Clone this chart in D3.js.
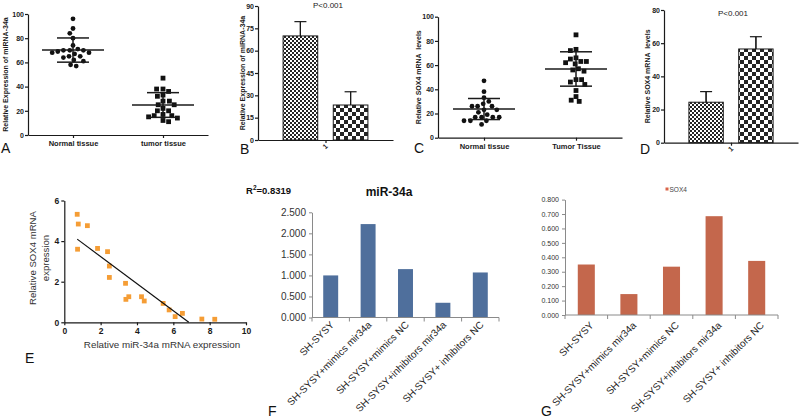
<!DOCTYPE html>
<html><head><meta charset="utf-8">
<script src="https://cdn.jsdelivr.net/npm/d3@7"></script>
<style>
body{margin:0;background:#fff}
svg{display:block}
text{font-family:"Liberation Sans",Arial,sans-serif}
</style>
</head><body>
<svg id="c" width="800" height="418"></svg>
<script>
// ---------------- DATA ----------------
// Panel A: miRNA-34a, individual samples
const aGroups = ["Normal tissue", "tumor tissue"];
const aNormal = [96, 88, 84, 80, 74, 71, 70, 70, 70, 69, 68, 68, 67, 65, 65, 64, 62, 61, 58, 57];
const aTumor  = [47, 38, 38, 36, 33, 32, 28, 28, 25, 25, 22, 20, 20, 17, 16, 16, 15, 14, 12, 11];
const aMean = [70.2, 24.8];
const aSD   = [10.0, 10.2];
const aTicks = [0, 20, 40, 60, 80, 100];

// Panel B: miRNA-34a bars (mean ± SD)
const bMeans = [69.9, 23.5];
const bSD    = [9.6, 8.9];
const bTicks = [0, 15, 30, 45, 60, 75, 90];
const bGroup = ["1"];

// Panel C: SOX4, individual samples
const cGroups = ["Normal tissue", "Tumor Tissue"];
const cNormal = [47, 38, 33, 30, 28, 26, 26, 26, 23, 23, 21, 19, 17, 17, 17, 17, 14, 14, 14, 11];
const cTumor  = [85, 73, 72, 66, 65, 63, 63, 62, 61, 57, 56, 55, 48, 48, 46, 44, 39, 34, 31, 30];
const cMean = [23.7, 56.8];
const cSD   = [8.7, 14.2];
const cTicks = [0, 20, 40, 60, 80, 100];

// Panel D: SOX4 bars (mean ± SD)
const dMeans = [24.4, 56.5];
const dSD    = [6.4, 7.4];
const dTicks = [0, 20, 40, 60, 80];
const dGroup = ["1"];

// Panel E: correlation
const eX = [0.71, 0.77, 1.27, 0.73, 1.83, 2.38, 2.48, 2.48, 3.37, 3.39, 3.55, 4.25, 4.40, 5.44, 5.77, 6.10, 6.50, 7.57, 8.28];
const eY = [5.32, 4.84, 4.76, 3.60, 3.64, 3.48, 2.77, 2.21, 1.92, 1.13, 1.26, 1.26, 1.05, 0.93, 0.61, 0.28, 0.44, 0.16, 0.15];
const eFit = [-0.667, 4.57];       // slope, intercept
const eFitRange = [0.71, 6.85];
const eXTicks = [0, 2, 4, 6, 8, 10];
const eYTicks = [0, 2, 4, 6];
const eR2 = "0.8319";

// Panels F and G
const cellGroups = ["SH-SYSY", "SH-SYSY+mimics mir34a", "SH-SYSY+mimics NC", "SH-SYSY+inhibitors mir34a", "SH-SYSY+ inhibitors NC"];
const fValues = [1.00, 2.22, 1.15, 0.35, 1.07];
const fTicks = [0, 0.5, 1.0, 1.5, 2.0, 2.5];
const gValues = [0.350, 0.145, 0.335, 0.685, 0.375];
const gTicks = [0, 0.1, 0.2, 0.3, 0.4, 0.5, 0.6, 0.7, 0.8];

// ---------------- DRAW ----------------
const svg = d3.select("#c");
svg.append("rect").attr("width", 800).attr("height", 418).attr("fill", "#fff");
const defs = svg.append("defs");
function checker(id, s) {
  const p = defs.append("pattern").attr("id", id).attr("patternUnits", "userSpaceOnUse")
    .attr("width", 2 * s).attr("height", 2 * s);
  p.append("rect").attr("width", 2 * s).attr("height", 2 * s).attr("fill", "#fff");
  p.append("rect").attr("width", s).attr("height", s).attr("fill", "#111");
  p.append("rect").attr("x", s).attr("y", s).attr("width", s).attr("height", s).attr("fill", "#111");
}
checker("fine", 2);
checker("coarse", 4);

const INK = "#1a1a1a";
function styleGP(sel, fs) {
  sel.attr("font-family", "Liberation Sans, Arial, sans-serif").attr("font-size", fs).attr("font-weight", "bold");
  sel.selectAll("text").attr("fill", INK);
  sel.selectAll("line,path").attr("stroke", INK).attr("stroke-width", 1.2);
}
function yTitle(x, y, txt, fs, weight, color) {
  svg.append("text").attr("transform", `translate(${x},${y}) rotate(-90)`)
    .attr("text-anchor", "middle").attr("dominant-baseline", "central")
    .attr("font-size", fs).attr("font-weight", weight || "bold").attr("fill", color || INK)
    .style("white-space", "pre").text(txt);
}
function panelLetter(x, y, t) {
  svg.append("text").attr("x", x).attr("y", y).attr("font-size", 14).attr("fill", "#111").text(t);
}

// beeswarm placement (computed)
function swarm(values, y, cx, diam) {
  const placed = [];
  const idx = values.map((v, i) => i).sort((a, b) => values[b] - values[a]);
  const out = [];
  idx.forEach((i, n) => {
    const py = y(values[i]);
    const sgn = n % 2 ? 1 : -1;
    for (let k = 0; k < 200; k++) {
      const off = (k === 0 ? 0 : (k % 2 ? sgn : -sgn) * Math.ceil(k / 2) * 0.8);
      const px = cx + off;
      if (placed.every(p => (p[0] - px) ** 2 + (p[1] - py) ** 2 >= diam * diam)) {
        placed.push([px, py]); out.push({ x: px, y: py }); break;
      }
    }
  });
  return out;
}

function dotPanel(opts) {
  const { x0, x1, yTop, yBot, ticks, max, groups, sets, means, sds, title, titleX, letter, letterX } = opts;
  const y = d3.scaleLinear().domain([0, max]).range([yBot, yTop]);
  const x = d3.scalePoint().domain(groups).range([x0, x1]).padding(0.5);
  const gy = svg.append("g").attr("transform", `translate(${x0},0)`)
    .call(d3.axisLeft(y).tickValues(ticks).tickFormat(d3.format("d")).tickSize(3).tickSizeOuter(0).tickPadding(1));
  styleGP(gy, 7);
  const gx = svg.append("g").attr("transform", `translate(0,${yBot})`)
    .call(d3.axisBottom(x).tickSize(3).tickSizeOuter(0).tickPadding(3));
  styleGP(gx, 7.5);
  groups.forEach((gname, gi) => {
    const cx = x(gname);
    const pts = swarm(sets[gi], y, cx, 5.6);
    if (gi === 0) {
      svg.append("g").selectAll("circle").data(pts).join("circle")
        .attr("cx", d => d.x).attr("cy", d => d.y).attr("r", 2.4).attr("fill", "#111");
    } else {
      svg.append("g").selectAll("rect").data(pts).join("rect")
        .attr("x", d => d.x - 2.4).attr("y", d => d.y - 2.4).attr("width", 4.8).attr("height", 4.8).attr("fill", "#111");
    }
    const g = svg.append("g").attr("stroke", INK).attr("stroke-width", 1.5);
    g.append("line").attr("x1", cx - 31).attr("x2", cx + 31).attr("y1", y(means[gi])).attr("y2", y(means[gi]));
    g.append("line").attr("x1", cx - 16).attr("x2", cx + 16).attr("y1", y(means[gi] + sds[gi])).attr("y2", y(means[gi] + sds[gi]));
    g.append("line").attr("x1", cx - 16).attr("x2", cx + 16).attr("y1", y(means[gi] - sds[gi])).attr("y2", y(means[gi] - sds[gi]));
    g.append("line").attr("x1", cx).attr("x2", cx).attr("y1", y(means[gi] + sds[gi])).attr("y2", y(means[gi] - sds[gi]));
  });
  yTitle(titleX, (yTop + yBot) / 2, title, 7);
  panelLetter(letterX, 153, letter);
}

function barPanel(opts) {
  const { x0, x1, yTop, yBot, ticks, max, means, sds, title, titleX, letter, letterX, pX, pY, group } = opts;
  const y = d3.scaleLinear().domain([0, max]).range([yBot, yTop]);
  const xb = d3.scaleBand().domain(d3.range(means.length)).range([x0, x1]).paddingInner(0.31).paddingOuter(0.5);
  const xg = d3.scalePoint().domain(group).range([x0, x1]).padding(0.5);
  const gy = svg.append("g").attr("transform", `translate(${x0},0)`)
    .call(d3.axisLeft(y).tickValues(ticks).tickFormat(d3.format("d")).tickSize(3).tickSizeOuter(0).tickPadding(1));
  styleGP(gy, 7);
  const fills = ["url(#fine)", "url(#coarse)"];
  means.forEach((m, i) => {
    const bx = xb(i), bw = xb.bandwidth(), cx = bx + bw / 2;
    const g = svg.append("g");
    g.append("line").attr("x1", cx).attr("x2", cx).attr("y1", y(m - sds[i])).attr("y2", y(m + sds[i]))
      .attr("stroke", INK).attr("stroke-width", 1.2);
    g.append("rect").attr("x", bx).attr("y", y(m)).attr("width", bw).attr("height", yBot - y(m))
      .attr("fill", fills[i]).attr("fill-opacity", 0.92).attr("stroke", INK).attr("stroke-width", 1);
    g.append("line").attr("x1", cx).attr("x2", cx).attr("y1", y(m)).attr("y2", y(m + sds[i]))
      .attr("stroke", INK).attr("stroke-width", 1.2);
    g.append("line").attr("x1", cx - 6).attr("x2", cx + 6).attr("y1", y(m + sds[i])).attr("y2", y(m + sds[i]))
      .attr("stroke", INK).attr("stroke-width", 1.2);
  });
  const gx = svg.append("g").attr("transform", `translate(0,${yBot})`)
    .call(d3.axisBottom(xg).tickSize(3).tickSizeOuter(0).tickPadding(2));
  styleGP(gx, 7);
  gx.selectAll(".tick text").attr("y", 0).attr("dy", 0).attr("text-anchor", "middle")
    .attr("transform", "translate(1,8) rotate(-45)");
  svg.append("text").attr("x", pX).attr("y", pY).attr("text-anchor", "middle")
    .attr("font-size", 8).attr("fill", "#222").text("P<0.001");
  yTitle(titleX, (yTop + yBot) / 2, title, 7);
  panelLetter(letterX, 154, letter);
}

// A
dotPanel({ x0: 28, x1: 208, yTop: 14, yBot: 135, ticks: aTicks, max: 100, groups: aGroups,
  sets: [aNormal, aTumor], means: aMean, sds: aSD, title: "Relative Expression of miRNA-34a",
  titleX: 5, letter: "A", letterX: 1 });
// B
barPanel({ x0: 258, x1: 393, yTop: 6, yBot: 140, ticks: bTicks, max: 90, means: bMeans, sds: bSD,
  title: "Relative Expression of miRNA-34a", titleX: 242, letter: "B", letterX: 240, pX: 328, pY: 8, group: bGroup });
// C
dotPanel({ x0: 438, x1: 622, yTop: 16.7, yBot: 137.7, ticks: cTicks, max: 100, groups: cGroups,
  sets: [cNormal, cTumor], means: cMean, sds: cSD, title: "Relative SOX4 mRNA  levels",
  titleX: 418, letter: "C", letterX: 414 });
// D
barPanel({ x0: 664, x1: 798, yTop: 10, yBot: 142.7, ticks: dTicks, max: 80, means: dMeans, sds: dSD,
  title: "Relative SOX4 mRNA  levels", titleX: 647, letter: "D", letterX: 640, pX: 733, pY: 16, group: dGroup });

// E
(function () {
  const x = d3.scaleLinear().domain([0, 10]).range([64.3, 246]);
  const y = d3.scaleLinear().domain([0, 6]).range([322.3, 200.5]);
  const gx = svg.append("g").attr("transform", "translate(0,322.3)")
    .call(d3.axisBottom(x).tickValues(eXTicks).tickFormat(d3.format("d")).tickSize(3).tickSizeOuter(0).tickPadding(3));
  styleGP(gx, 8.5);
  const gy = svg.append("g").attr("transform", "translate(64.3,0)")
    .call(d3.axisLeft(y).tickValues(eYTicks).tickFormat(d3.format("d")).tickSize(3).tickSizeOuter(0).tickPadding(2));
  styleGP(gy, 8.5);
  svg.append("g").selectAll("rect").data(eX).join("rect")
    .attr("x", (d, i) => x(d) - 2.4).attr("y", (d, i) => y(eY[i]) - 2.4)
    .attr("width", 4.8).attr("height", 4.8).attr("fill", "#f59d35");
  svg.append("line").attr("x1", x(eFitRange[0])).attr("y1", y(eFit[0] * eFitRange[0] + eFit[1]))
    .attr("x2", x(eFitRange[1])).attr("y2", y(eFit[0] * eFitRange[1] + eFit[1]))
    .attr("stroke", "#111").attr("stroke-width", 1.2);
  svg.append("text").attr("x", 162).attr("y", 348).attr("text-anchor", "middle")
    .attr("font-size", 9.8).attr("fill", "#333").text("Relative miR-34a mRNA expression");
  yTitle(32, 258, "Relative SOX4 mRNA", 9.6, "normal", "#333");
  yTitle(45, 258, "expression", 9.6, "normal", "#333");
  const r = svg.append("text").attr("x", 246).attr("y", 194).attr("font-size", 9.5).attr("font-weight", "bold").attr("fill", "#111");
  r.append("tspan").text("R");
  r.append("tspan").attr("font-size", 6.5).attr("dy", -4).text("2");
  r.append("tspan").attr("dy", 4).text("=" + eR2);
  panelLetter(25, 363, "E");
})();

// Excel-style bar panels
function excelPanel(opts) {
  const { x0, x1, yTop, yBot, ticks, max, values, color, tickFont, tickFs, fmt, labFont, labFs, labDx, labDy, letter, letterX } = opts;
  const y = d3.scaleLinear().domain([0, max]).range([yBot, yTop]);
  const x = d3.scaleBand().domain(cellGroups).range([x0, x1]).paddingInner(0.6).paddingOuter(0.3);
  const gy = svg.append("g").attr("transform", `translate(${x0},0)`)
    .call(d3.axisLeft(y).tickValues(ticks).tickFormat(d3.format(fmt)).tickSize(3).tickSizeOuter(0).tickPadding(3));
  gy.attr("font-family", tickFont).attr("font-size", tickFs);
  gy.selectAll("text").attr("fill", "#333");
  gy.selectAll("line,path").attr("stroke", "#8a8a8a");
  svg.append("g").selectAll("rect").data(values).join("rect")
    .attr("x", (d, i) => x(cellGroups[i])).attr("y", d => y(d))
    .attr("width", x.bandwidth()).attr("height", d => yBot - y(d)).attr("fill", color);
  const ax = svg.append("g").attr("stroke", "#8a8a8a");
  ax.append("line").attr("x1", x0).attr("x2", x1).attr("y1", yBot).attr("y2", yBot);
  const bounds = cellGroups.map(c => x(c) - x.step() * x.paddingInner() / 2).concat([x1]);
  bounds.forEach(b => ax.append("line").attr("x1", b).attr("x2", b).attr("y1", yBot).attr("y2", yBot + 4));
  svg.append("g").selectAll("text").data(cellGroups).join("text")
    .attr("transform", d => `translate(${x(d) + x.bandwidth() / 2 + labDx},${yBot + labDy}) rotate(-45)`)
    .attr("text-anchor", "end").attr("font-family", labFont).attr("font-size", labFs).attr("fill", "#262626")
    .style("white-space", "pre").text(d => d);
  panelLetter(letterX, 416, letter);
  return { x, y };
}

excelPanel({ x0: 312, x1: 499, yTop: 212.3, yBot: 317.5, ticks: fTicks, max: 2.5, values: fValues,
  color: "#4f6f9c", tickFont: "Liberation Sans, Arial, sans-serif", tickFs: 10, fmt: ".3f",
  labFont: "Liberation Sans, Arial, sans-serif", labFs: 10, labDx: 4, labDy: 8, letter: "F", letterX: 268 });
svg.append("text").attr("x", 389).attr("y", 196).attr("text-anchor", "middle")
  .attr("font-family", "Liberation Serif, 'Times New Roman', serif").attr("font-weight", "bold")
  .attr("font-size", 12).attr("fill", "#111").text("miR-34a");

excelPanel({ x0: 565, x1: 778, yTop: 199.6, yBot: 315, ticks: gTicks, max: 0.8, values: gValues,
  color: "#c4674c", tickFont: "Liberation Mono, monospace", tickFs: 7, fmt: ".3f",
  labFont: "'Noto Sans CJK SC', sans-serif", labFs: 10, labDx: 8, labDy: 11, letter: "G", letterX: 541 });
// G legend
svg.append("rect").attr("x", 665.5).attr("y", 187.5).attr("width", 3).attr("height", 3).attr("fill", "#d9644a");
svg.append("text").attr("x", 669.5).attr("y", 191.5).attr("font-family", "Liberation Serif, serif")
  .attr("font-size", 6.5).attr("fill", "#444").text("SOX4");
</script>
</body></html>
